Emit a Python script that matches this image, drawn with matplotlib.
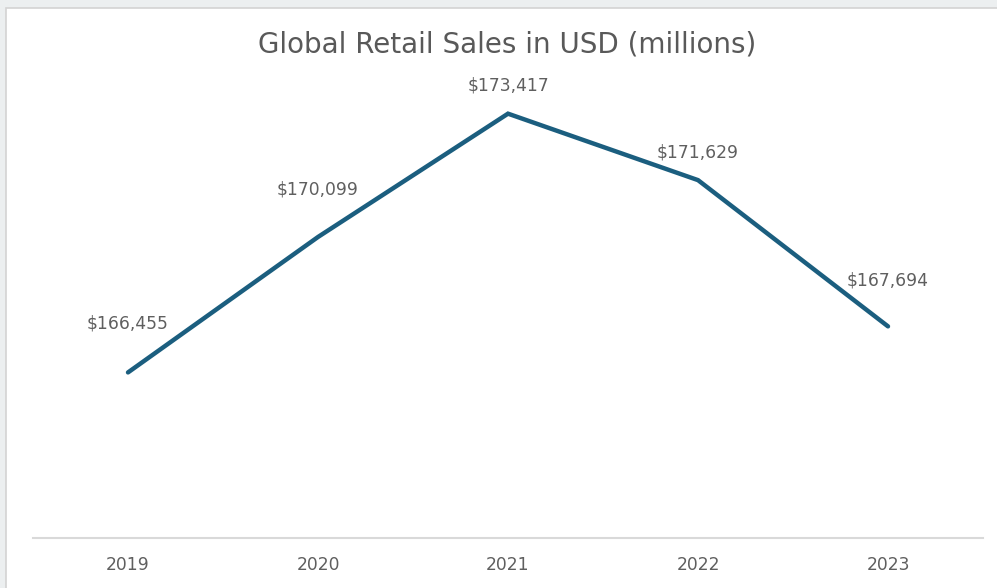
import matplotlib.pyplot as plt
from matplotlib.patches import Rectangle

years = ["2019", "2020", "2021", "2022", "2023"]
sales = [166455, 170099, 173417, 171629, 167694]
# height of each value label above its point, in points
label_offsets = [35, 34, 20, 20, 33]

W, H = 997, 588
fig = plt.figure(figsize=(W / 100, H / 100), dpi=100)
fig.patch.set_facecolor("#eceff0")

# white chart card with a thin grey edge
card = Rectangle((6 / W, -0.05), 1.0, 1.05 - 8 / H, transform=fig.transFigure,
                 facecolor="white", edgecolor="#d3d3d3", linewidth=1.2, zorder=-5)
fig.patches.append(card)

ax = fig.add_axes([33 / W, (H - 538) / H, (983 - 33) / W, (538 - 92) / H])
ax.set_facecolor("none")
ax.set_zorder(2)

x = list(range(len(years)))
ax.plot(x, sales, color="#1b5e7f", linewidth=3.2, solid_capstyle="round",
        solid_joinstyle="miter")

for xi, v, dy in zip(x, sales, label_offsets):
    ax.annotate(f"${v:,}", (xi, v), xytext=(0, dy), textcoords="offset points",
                ha="center", va="center", fontsize=12.3, color="#5f5f5f")

ax.set_xlim(-0.5, len(years) - 0.5)
ax.set_ylim(162000, 174000)
ax.set_xticks(x)
ax.set_xticklabels(years, fontsize=12.3, color="#5f5f5f")
ax.tick_params(axis="x", length=0, pad=13)
ax.set_yticks([])

for side in ["left", "right", "top"]:
    ax.spines[side].set_visible(False)
ax.spines["bottom"].set_color("#d9d9d9")
ax.spines["bottom"].set_linewidth(1.5)

fig.text(507 / W, 1 - 45 / H, "Global Retail Sales in USD (millions)",
         ha="center", va="center", fontsize=20, color="#595959")

plt.savefig("out.png", dpi=100)
